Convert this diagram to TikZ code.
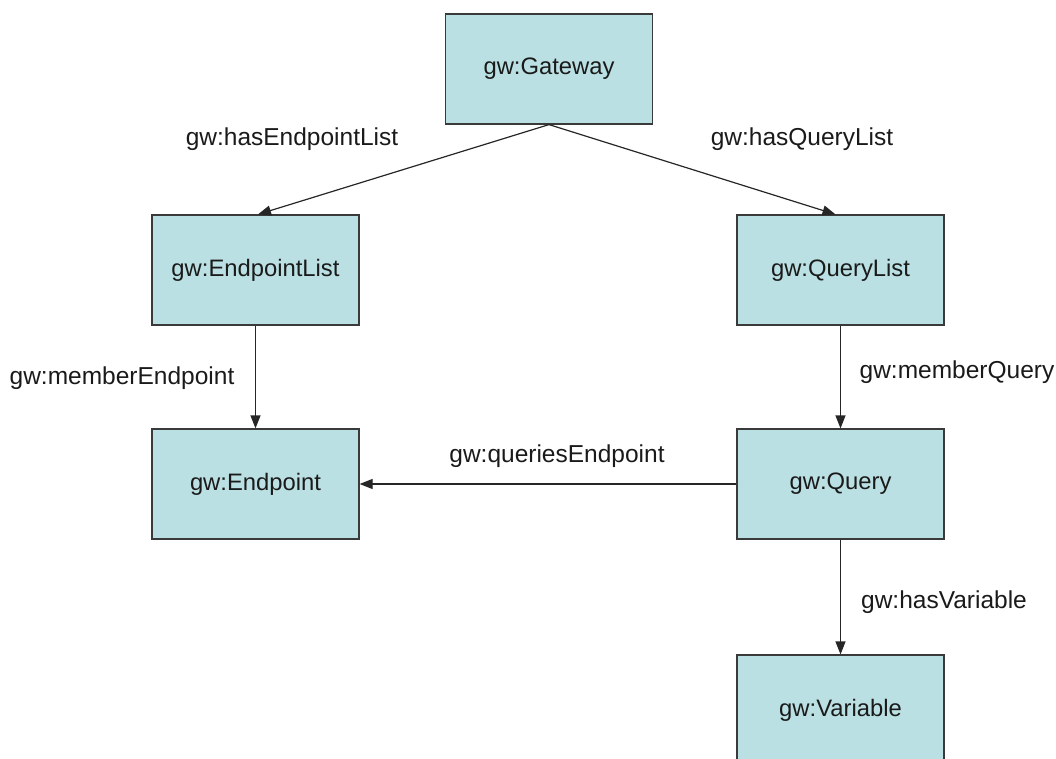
\documentclass[tikz,border=0pt]{standalone}
\usepackage{fontspec}
\setmainfont{Liberation Sans}
\usetikzlibrary{arrows.meta}
\definecolor{boxfill}{HTML}{BBE0E3}
\definecolor{boxline}{HTML}{3A3A3A}
\definecolor{txt}{HTML}{1A1A1A}
\tikzset{
  cls/.style={draw=boxline, line width=1.2pt, fill=boxfill, minimum width=207pt, minimum height=110pt, inner sep=0pt, text=txt, font=\fontsize{23.8}{28}\selectfont},
  lbl/.style={text=txt, font=\fontsize{24.5}{30}\selectfont, inner sep=0pt},
  arr/.style={draw=black!85, line width=1.2pt, -{Triangle[length=13pt,width=10pt]}, shorten >=0pt}
}
\begin{document}
\begin{tikzpicture}[x=1pt,y=-1pt]
\useasboundingbox (0,0) rectangle (1056,758);
\clip (0,0) rectangle (1056,758);
\node[cls] (gw) at (549,69) {gw:Gateway};
\node[cls] (el) at (255.5,270) {gw:EndpointList};
\node[cls] (ql) at (840.5,270) {gw:QueryList};
\node[cls] (ep) at (255.5,484) {gw:Endpoint};
\node[cls] (q) at (840.5,484) {gw:Query};
\node[cls] (v) at (840.5,710) {gw:Variable};
\draw[arr] (gw.south) -- ([xshift=2.5pt]el.north);
\draw[arr] (gw.south) -- ([xshift=-5pt]ql.north);
\draw[arr] (el.south) -- (ep.north);
\draw[arr] (ql.south) -- (q.north);
\draw[arr] (q.west) -- (ep.east);
\draw[arr] (q.south) -- (v.north);
\node[lbl] (l1) at (292,139) {gw:hasEndpointList};
\node[lbl] (l2) at (802,139) {gw:hasQueryList};
\node[lbl] (l3) at (122,378) {gw:memberEndpoint};
\node[lbl] (l4) at (957,372) {gw:memberQuery};
\node[lbl] (l5) at (557,456) {gw:queriesEndpoint};
\node[lbl] (l6) at (944,602) {gw:hasVariable};
\end{tikzpicture}
\end{document}
